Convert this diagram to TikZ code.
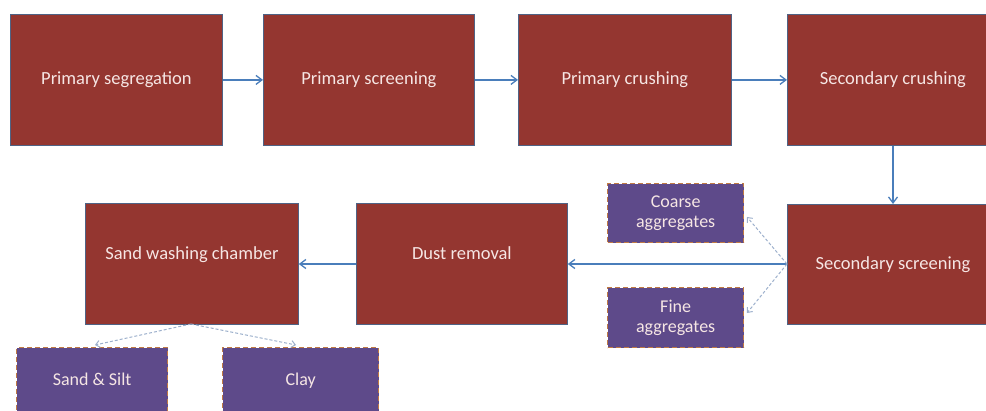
\documentclass[tikz,border=0pt]{standalone}
\usepackage{fontspec}
\setmainfont{Carlito}
\usetikzlibrary{arrows.meta}
\definecolor{boxred}{HTML}{943630}
\definecolor{boxedge}{HTML}{4F6385}
\definecolor{purp}{HTML}{5E4A8A}
\definecolor{purpedge}{HTML}{C07A44}
\definecolor{arrowblue}{HTML}{4A7EBB}
\definecolor{dashblue}{HTML}{9DB0CC}
\definecolor{txt}{HTML}{F6E6E4}
\tikzset{
  x=1pt, y=-1pt,
  redbox/.style={draw=boxedge, line width=0.8pt, fill=boxred, text=txt, font=\fontsize{18.5}{21}\selectfont, inner sep=0pt},
  purpbox/.style={draw=purpedge, dashed, dash pattern=on 5pt off 3pt, line width=1.3pt, fill=purp, text=txt, font=\fontsize{18}{20}\selectfont, align=center, inner sep=0pt},
  flow/.style={draw=arrowblue, line width=1.3pt, -{Straight Barb[length=6pt,width=9pt]}},
  split/.style={draw=dashblue, line width=1pt, dashed, dash pattern=on 3pt off 2pt, -{Straight Barb[length=4pt,width=7pt]}}
}
\newcommand{\rbox}[6]{\node[redbox, minimum width=#4-#2, minimum height=#5-#3, anchor=north west] (#1) at (#2,#3) {#6};}
\newcommand{\pbox}[6]{\node[purpbox, minimum width=#4-#2, minimum height=#5-#3, anchor=north west] (#1) at (#2,#3) {#6};}
\begin{document}
\begin{tikzpicture}
\useasboundingbox (0,0) rectangle (986,411);
\rbox{pseg}{10}{14}{222}{145}{Primary segregation}
\rbox{pscr}{263}{14}{474}{145}{Primary screening}
\rbox{pcru}{518}{14}{731}{145}{Primary crushing}
\rbox{scru}{787}{14}{998}{145}{Secondary crushing\hspace{14pt}}
\rbox{swc}{85}{203}{298}{324}{\raisebox{22pt}{Sand washing chamber}}
\rbox{dust}{356}{203}{567}{324}{\raisebox{22pt}{Dust removal}}
\rbox{sscr}{787}{204}{998}{324}{Secondary screening\hspace{14pt}}
\pbox{coarse}{607}{183}{743}{242}{Coarse\\aggregates}
\pbox{fine}{607}{287}{743}{347}{Fine\\aggregates}
\pbox{sand}{16}{347}{167}{420}{\raisebox{10pt}{Sand \& Silt}}
\pbox{clay}{222}{347}{378}{420}{\raisebox{10pt}{Clay}}
\draw[flow] (pseg.east) -- (pscr.west);
\draw[flow] (pscr.east) -- (pcru.west);
\draw[flow] (pcru.east) -- (scru.west);
\draw[flow] (scru.south -| 893,0) -- (sscr.north -| 893,0);
\draw[flow] (sscr.west |- 0,264) -- (dust.east |- 0,264);
\draw[flow] (dust.west |- 0,264) -- (swc.east |- 0,264);
\coordinate (sv) at (787,264);
\draw[split] (sv) -- (747,217);
\draw[split] (sv) -- (747,313);
\coordinate (sw) at (191,324);
\draw[split] (sw) -- (95,345);
\draw[split] (sw) -- (296,345);
\end{tikzpicture}
\end{document}
